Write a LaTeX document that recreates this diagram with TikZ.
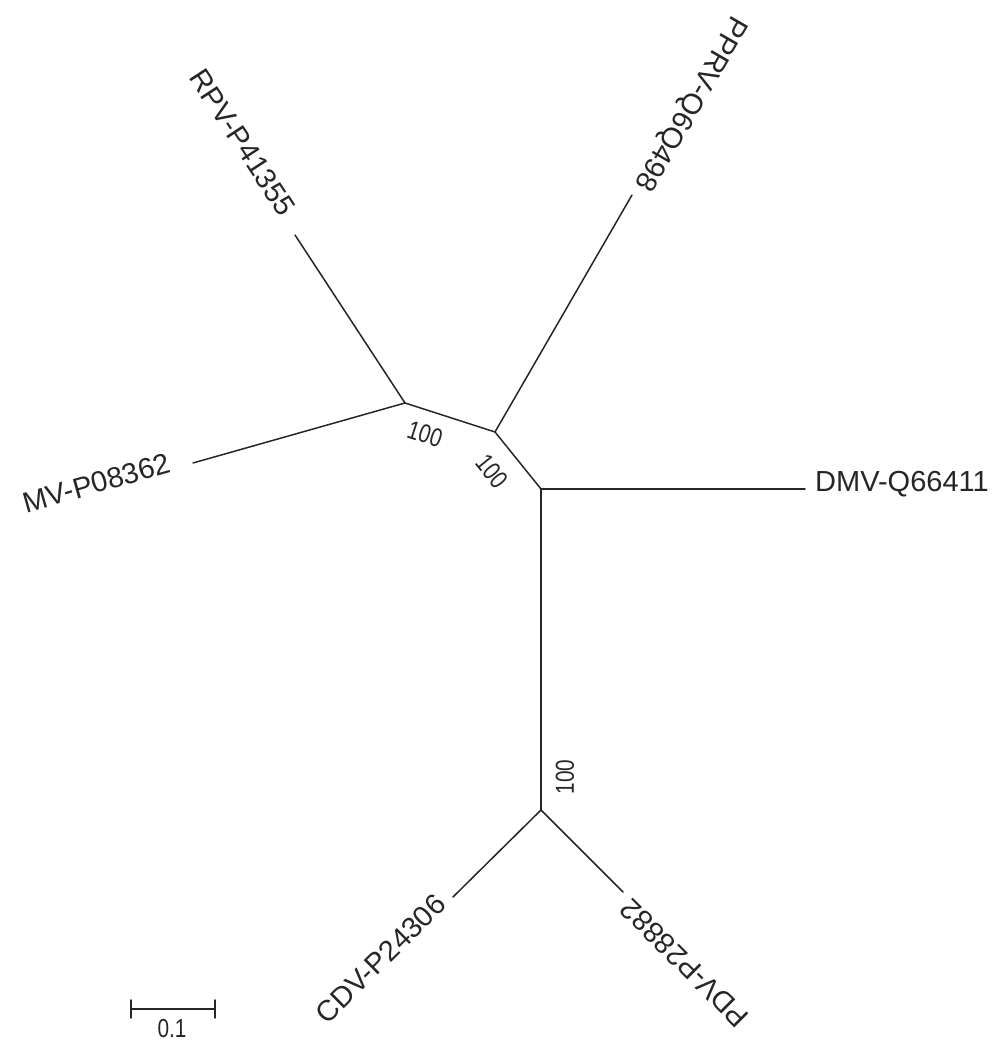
\documentclass[tikz,border=0pt]{standalone}
\usepackage{fontspec}
\setmainfont{Liberation Sans}
\usetikzlibrary{calc}
\begin{document}
\begin{tikzpicture}[x=1pt,y=1pt,
  branch/.style={line width=1.5pt, draw=black!85, line cap=round},
  leaflab/.style={font=\fontsize{29}{29}\selectfont, inner xsep=10pt, inner ysep=0pt, text=black!85},
  boot/.style={font=\fontsize{26}{26}\selectfont, inner sep=0pt, text=black!85}]
\useasboundingbox (0,0) rectangle (1007,1041);
% internal nodes
\coordinate (A) at (405,638);
\coordinate (B) at (495,609);
\coordinate (C) at (541,552);
\coordinate (D) at (541,231);
% leaves
\coordinate (rpv) at (295,806);
\coordinate (pprv) at (632,846);
\coordinate (mv) at (193,578);
\coordinate (dmv) at (805,552);
\coordinate (cdv) at (453,144);
\coordinate (pdv) at (623,149);
% branches
\draw[branch] (A) -- (rpv);
\draw[branch] (A) -- (mv);
\draw[branch] (A) -- (B);
\draw[branch] (B) -- (pprv);
\draw[branch] (B) -- (C);
\draw[branch] (C) -- (dmv);
\draw[branch] (C) -- (D);
\draw[branch] (D) -- (cdv);
\draw[branch] (D) -- (pdv);
% leaf labels
\node[leaflab, inner xsep=22pt, anchor=base east, rotate=-56.8] (lrpv) at ($(rpv)+(-146.8:3)$) {RPV-P41355};
\node[leaflab, anchor=base east, rotate=240] (lpprv) at ($(pprv)+(150:3)$) {PPRV-Q6Q498};
\node[leaflab, inner xsep=22pt, anchor=base east, rotate=15.8] (lmv) at ($(mv)+(-74.2:3)$) {MV-P08362};
\node[leaflab, anchor=base west] (ldmv) at ($(dmv)+(-90:3)$) {DMV-Q66411};
\node[leaflab, anchor=base east, rotate=44.7] (lcdv) at ($(cdv)+(-45.3:3)$) {CDV-P24306};
\node[leaflab, anchor=base east, rotate=135] (lpdv) at ($(pdv)+(45:3)$) {PDV-P28882};
% bootstrap values
\node[boot, rotate=-17.9] (bAB) at (425,607) {\scalebox{0.8}[1]{100}};
\node[boot, rotate=-51] (bBC) at (492,570) {\scalebox{0.8}[1]{100}};
\node[boot, rotate=90] (bCD) at (565,264) {\scalebox{0.8}[1]{100}};
% scale bar
\coordinate (sbl) at (131,32);
\coordinate (sbr) at (215,32);
\draw[branch] (sbl) -- (sbr);
\draw[branch] ($(sbl)+(0,-9)$) -- ($(sbl)+(0,9)$);
\draw[branch] ($(sbr)+(0,-9)$) -- ($(sbr)+(0,9)$);
\node[boot, anchor=north] (sbt) at (172,22) {\scalebox{0.8}[1]{0.1}};
\end{tikzpicture}
\end{document}
